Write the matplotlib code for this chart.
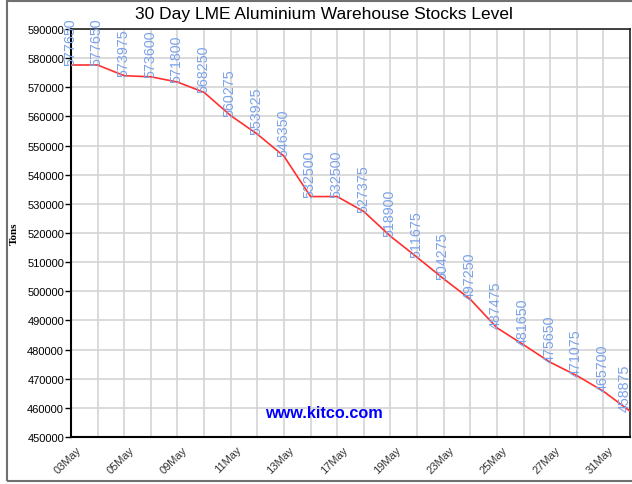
import numpy as np
import matplotlib.pyplot as plt
import matplotlib.transforms as mtransforms
from matplotlib.patches import Rectangle

# 30 day LME aluminium stocks (tons), one value per trading day
dates = ['03May', '04May', '05May', '06May', '09May', '10May', '11May', '12May',
         '13May', '16May', '17May', '18May', '19May', '20May', '23May', '24May',
         '25May', '26May', '27May', '30May', '31May', '01Jun']
stocks = [577650, 577650, 573975, 573600, 571800, 568250, 560275, 553925,
          546350, 532500, 532500, 527375, 518900, 511675, 504275, 497250,
          487475, 481650, 475650, 471075, 465700, 458875]

plt.rcParams['font.family'] = ['Liberation Sans', 'DejaVu Sans']

fig = plt.figure(figsize=(6.32, 4.85), dpi=100)
ax = fig.add_axes([71 / 632, 1 - 438 / 485, 559 / 632, 408 / 485])

x = np.arange(len(stocks))
ax.plot(x, stocks, color='#ff3030', lw=1.2, zorder=3)

n = len(stocks)
for xi, v in zip(x, stocks):
    # last label is nudged left so it stays inside the plot
    xpos = xi - 0.22 if xi == n - 1 else xi - 0.03
    ax.text(xpos, v, str(v), rotation=90, ha='center', va='bottom',
            fontsize=10.3, color='#7aa2ea', zorder=4)

ax.set_xlim(0, n - 1)
ax.set_ylim(450000, 590000)
ax.set_yticks(np.arange(450000, 590001, 10000))
ax.tick_params(axis='y', labelsize=8, length=4, width=1, pad=1)

ax.set_xticks(x)
ax.set_xticklabels([d if i % 2 == 0 else '' for i, d in enumerate(dates)],
                   rotation=45, ha='right', rotation_mode='anchor',
                   fontsize=8, color='#333333')
ax.tick_params(axis='x', length=0, pad=5)
shift = mtransforms.ScaledTranslation(5 / 100, 0, fig.dpi_scale_trans)
for lbl in ax.get_xticklabels():
    lbl.set_transform(lbl.get_transform() + shift)

ax.grid(True, color='#d4d4d4', lw=1.2)
ax.set_axisbelow(True)

for s in ['left', 'bottom']:
    ax.spines[s].set_linewidth(1.5)
    ax.spines[s].set_color('black')
for s in ['top', 'right']:
    ax.spines[s].set_linewidth(1.2)
    ax.spines[s].set_color('#222222')

ax.set_ylabel('Tons', fontsize=8, fontweight='bold', family='Liberation Serif', labelpad=6)

fig.text(324 / 632, 1 - 15 / 485, '30 Day LME Aluminium Warehouse Stocks Level',
         ha='center', va='center', fontsize=12.5)
fig.text(324 / 632, 1 - 414 / 485, 'www.kitco.com', ha='center', va='center',
         fontsize=11.7, fontweight='bold', color='#0000ff')

# grey outer frame
fig.patches.append(Rectangle((7 / 632, 3 / 485), 1.0, 1 - 5 / 485,
                             transform=fig.transFigure, fill=False,
                             edgecolor='#707070', lw=1.5))

fig.savefig('out.png', dpi=100)
